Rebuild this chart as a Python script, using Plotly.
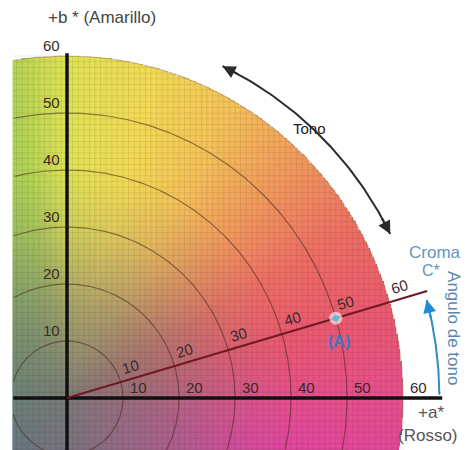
import numpy as np
import plotly.graph_objects as go

# ---- values ----
ring_radii = [10, 20, 30, 40, 50, 60]
a_tick_labels = ["10", "20", "30", "40", "50", "60"]
b_tick_labels = ["10", "20", "30", "40", "50", "60"]
chroma_tick_labels = ["10", "20", "30", "40", "50", "60"]
point_a = [48, 14]            # a*, b* of sample (A)
chroma_line_length = 67
tono_arc = [64.5, 26.5, 64.5] # radius, start angle, end angle (deg)
hue_arc = [66.5, 0.5, 15]     # radius, start angle, end angle (deg)
a_min, b_min, r_max = -9.6, -9.3, 60

FONT = "Liberation Sans, Arial, sans-serif"

# hue colour scale (angle in degrees -> colour)
hue_stops = [(-180, "rgb(60,150,130)"), (-135, "rgb(60,115,150)"), (-90, "rgb(110,90,165)"),
             (-45, "rgb(195,70,170)"), (-12, "rgb(230,68,160)"), (0, "rgb(234,78,142)"),
             (15, "rgb(240,88,112)"), (30, "rgb(243,110,100)"), (45, "rgb(246,155,92)"),
             (60, "rgb(249,198,88)"), (75, "rgb(248,224,84)"), (90, "rgb(228,232,84)"),
             (100, "rgb(180,216,84)"), (120, "rgb(130,200,92)"), (150, "rgb(90,180,105)"),
             (180, "rgb(60,150,130)")]
colorscale = [[(h + 180) / 360, c] for h, c in hue_stops]

step = 0.25
xs = np.arange(a_min, r_max + step, step)
ys = np.arange(b_min, r_max + step, step)
X, Y = np.meshgrid(xs, ys)
R = np.hypot(X, Y)
H = np.degrees(np.arctan2(Y, X))
H = np.where(R <= r_max, H, np.nan)
G = np.where(R <= r_max, R, np.nan)

fig = go.Figure()
fig.add_trace(go.Heatmap(x=xs, y=ys, z=H, colorscale=colorscale, zmin=-180, zmax=180,
                         showscale=False, hoverinfo="skip"))
fig.add_trace(go.Heatmap(x=xs, y=ys, z=G, zmin=0, zmax=40, showscale=False, hoverinfo="skip",
                         colorscale=[[0, "rgba(122,122,118,0.97)"], [0.4, "rgba(125,122,118,0.62)"],
                                     [0.75, "rgba(128,124,120,0.22)"], [1, "rgba(128,124,120,0.05)"]]))

# fine grid clipped to the disk
gx, gy = [], []
for v in range(-9, 61):
    top = np.sqrt(max(r_max ** 2 - v ** 2, 0))
    if v >= a_min:
        gx += [v, v, None]; gy += [b_min, top, None]
    if v >= b_min:
        gx += [a_min, top, None]; gy += [v, v, None]
fig.add_trace(go.Scatter(x=gx, y=gy, mode="lines", line=dict(color="rgba(40,20,20,0.09)", width=1),
                         hoverinfo="skip", showlegend=False))

# rings
for r in ring_radii:
    t = np.linspace(0, 2 * np.pi, 721)
    cx, cy = r * np.cos(t), r * np.sin(t)
    mask = (cx >= a_min) & (cy >= b_min)
    cx = np.where(mask, cx, np.nan); cy = np.where(mask, cy, np.nan)
    col = "rgba(70,40,30,0.55)" if r < 60 else "rgba(150,110,70,0.45)"
    fig.add_trace(go.Scatter(x=cx, y=cy, mode="lines", line=dict(color=col, width=1.2),
                             hoverinfo="skip", showlegend=False, connectgaps=False))

# axes
fig.add_trace(go.Scatter(x=[a_min, 67], y=[0, 0], mode="lines", line=dict(color="#111", width=3.5),
                         hoverinfo="skip", showlegend=False))
fig.add_trace(go.Scatter(x=[0, 0], y=[-10, 60.5], mode="lines", line=dict(color="#111", width=3.5),
                         hoverinfo="skip", showlegend=False))

# chroma line
hue = np.arctan2(point_a[1], point_a[0])
fig.add_trace(go.Scatter(x=[0, chroma_line_length * np.cos(hue)], y=[0, chroma_line_length * np.sin(hue)],
                         mode="lines", line=dict(color="rgb(110,25,35)", width=2),
                         hoverinfo="skip", showlegend=False))

# arcs
def arc(spec):
    r, a0, a1 = spec
    t = np.radians(np.linspace(a0, a1, 100))
    return r * np.cos(t), r * np.sin(t)

tx, ty = arc(tono_arc)
fig.add_trace(go.Scatter(x=tx, y=ty, mode="lines", line=dict(color="#2b2b2b", width=2),
                         hoverinfo="skip", showlegend=False))
hx, hy = arc(hue_arc)
fig.add_trace(go.Scatter(x=hx, y=hy, mode="lines", line=dict(color="rgb(50,140,190)", width=2),
                         hoverinfo="skip", showlegend=False))

# point A
fig.add_trace(go.Scatter(x=[point_a[0]], y=[point_a[1]], mode="markers",
                         marker=dict(size=13, color="rgba(255,255,255,0.6)"), hoverinfo="skip", showlegend=False))
fig.add_trace(go.Scatter(x=[point_a[0]], y=[point_a[1]], mode="markers",
                         marker=dict(size=6, color="rgb(90,185,225)"), hoverinfo="skip", showlegend=False))

ann = []
def txt(x, y, s, size=15, color="#333", **kw):
    d = dict(x=x, y=y, text=s, showarrow=False, font=dict(family=FONT, size=size, color=color))
    d.update(kw)
    ann.append(d)

for r, s in zip(ring_radii, a_tick_labels):
    txt(r + 2.7, 1.9, s, color="#3a2a2a")
for r, s in zip(ring_radii, b_tick_labels):
    txt(-0.9, r + 1.9, s, color="#3a2a2a", xanchor="right")
ca, sa = np.cos(hue), np.sin(hue)
for r, s in zip(ring_radii, chroma_tick_labels):
    along, perp = r + 2.5, 2.2
    txt(along * ca - perp * sa, along * sa + perp * ca, s, color="#3a2a2a", textangle=-np.degrees(hue))

txt(point_a[0] + 0.6, point_a[1] - 4.1, "<b>(A)</b>", size=16, color="rgb(60,120,195)")
txt(6.3, 66.8, "+b * (Amarillo)", size=17, color="#444")
txt(43.3, 47.3, "Tono", size=15, color="#222")
txt(70.8, 25.6, "Croma", size=17, color="rgb(100,150,190)", xanchor="right")
txt(66.9, 22.4, "C*", size=16, color="rgb(100,150,190)", xanchor="right")
txt(68.9, 12.3, "Ángulo de tono", size=17, color="rgb(90,135,175)", textangle=90)
txt(65.0, -2.5, "+a*", size=17, color="#555")
txt(64.4, -6.5, "(Rosso)", size=17, color="#555")

# arrowheads
def head(spec, at_end, color):
    r, a0, a1 = spec
    tip = a1 if at_end else a0
    back = tip - 3 if at_end else tip + 3
    ann.append(dict(x=r * np.cos(np.radians(tip)), y=r * np.sin(np.radians(tip)),
                    ax=r * np.cos(np.radians(back)), ay=r * np.sin(np.radians(back)),
                    xref="x", yref="y", axref="x", ayref="y", text="", showarrow=True,
                    arrowhead=2, arrowsize=1.3, arrowwidth=2, arrowcolor=color, standoff=0))

head(tono_arc, True, "#2b2b2b")
head(tono_arc, False, "#2b2b2b")
head(hue_arc, True, "rgb(30,140,215)")

# page body has an 8px margin: figure occupies window pixels 8..469 x 8..450
fig.update_layout(
    width=461, height=442, margin=dict(l=0, r=0, t=0, b=0),
    paper_bgcolor="white", plot_bgcolor="white", showlegend=False,
    xaxis=dict(range=[(8 - 67) / 5.6, (469 - 67) / 5.6], visible=False, fixedrange=True),
    yaxis=dict(range=[(398 - 450) / 5.7, (398 - 8) / 5.7], visible=False, fixedrange=True),
    annotations=ann,
)
fig.write_html("out.html")
